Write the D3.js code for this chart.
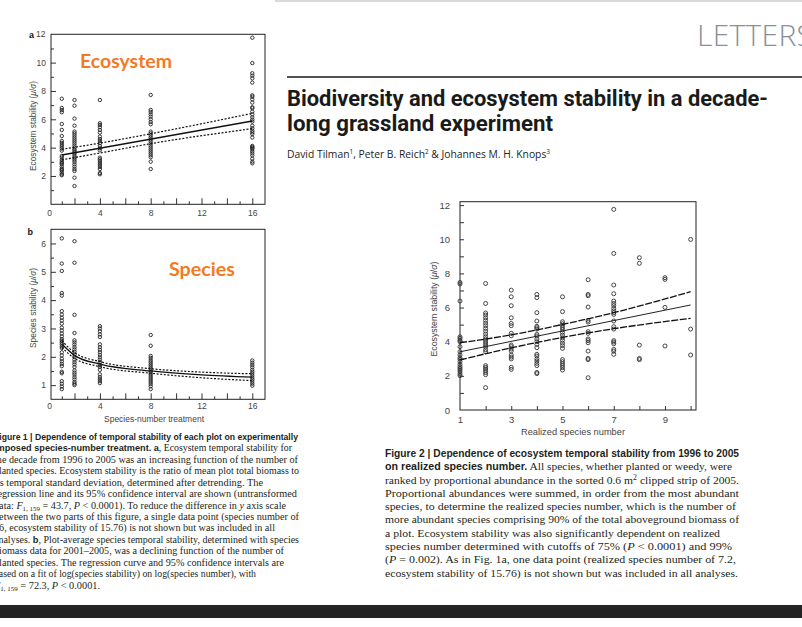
<!DOCTYPE html>
<html><head><meta charset="utf-8">
<script src="https://cdn.jsdelivr.net/npm/d3@7"></script>
<style>body{margin:0;background:#fff}svg{display:block}</style>
</head><body>
<svg id="c" width="802" height="627"></svg>
<script>
// ---------------- DATA ----------------
const treatments = [1, 2, 4, 8, 16];
// Fig 1a: ecosystem stability per planted species number
const ecoStab1 = [7.45,6.8,6.65,6.5,5.67,5.25,4.82,4.47,4.33,4.19,4.07,3.93,3.79,3.41,3.29,3.13,2.99,2.9,2.82,2.66,2.52,2.45,2.38,2.24,2.12,2.05];
const ecoStab2 = [7.36,6.96,6.05,5.55,5.13,5.01,4.87,4.73,4.59,4.45,4.31,4.16,4.02,3.88,3.79,3.67,3.55,3.41,3.27,3.13,2.99,2.82,2.66,2.49,2.35,1.88,1.29];
const ecoStab4 = [7.36,5.72,5.6,5.44,5.25,5.06,4.78,4.61,4.47,4.31,4.12,3.95,3.81,3.29,3.18,3.06,2.92,2.78,2.64,2.49,2.21,2.12];
const ecoStab8 = [7.72,6.66,6.52,6.35,6.19,6.0,5.81,5.65,5.13,5.01,4.87,4.73,4.59,4.45,4.31,4.16,4.02,3.88,3.74,3.6,3.46,3.32,3.01,2.49];
const ecoStab16 = [11.76,9.97,9.25,9.08,8.89,8.59,7.69,7.6,7.41,7.18,6.85,6.78,6.54,6.35,6.14,5.98,5.84,5.55,5.36,5.2,5.08,4.95,4.71,4.12,4.05,3.97,3.9,3.75,3.6,3.45,3.22,3.01,2.89];
const fitA_x = [1, 16], fitA_y = [3.48, 5.88];
const ciA_x = [1, 4, 8, 16], ciA_upper = [3.88, 4.32, 4.98, 6.42], ciA_lower = [3.14, 3.62, 4.28, 5.34];

// Fig 1b: species stability per planted species number
const spStab1 = [6.18,5.29,5.03,4.25,4.16,3.61,3.49,3.38,3.28,3.17,3.03,2.93,2.82,2.72,2.62,2.56,2.5,2.44,2.37,2.31,2.16,2.05,1.93,1.84,1.75,1.67,1.47,1.42,1.14,1.05,0.95,0.86];
const spStab2 = [6.08,5.32,3.48,2.84,2.58,2.51,2.43,2.34,2.26,2.18,2.08,1.99,1.9,1.81,1.73,1.64,1.52,1.44,1.37,1.28,1.2,1.11,1.05,1.0];
const spStab4 = [3.08,3.0,2.9,2.79,2.7,2.44,2.34,2.25,2.16,2.07,1.98,1.9,1.81,1.72,1.64,1.54,1.38,1.28,1.21,1.14,1.07];
const spStab8 = [2.77,2.39,2.03,1.96,1.88,1.81,1.74,1.67,1.6,1.53,1.46,1.39,1.32,1.25,1.18,1.11,1.04,0.96,0.86];
const spStab16 = [1.87,1.79,1.71,1.63,1.54,1.47,1.4,1.33,1.26,1.19,1.12,1.05,0.98];
const fitB_x = [1, 2, 4, 8, 12, 16];
const fitB_y = [2.45, 2.05, 1.74, 1.5, 1.36, 1.28];
const ciB_upper = [2.57, 2.15, 1.83, 1.58, 1.46, 1.4];
const ciB_lower = [2.33, 1.95, 1.65, 1.42, 1.26, 1.16];

// Fig 2: ecosystem stability per realized species number
const realized = [1,2,3,4,5,6,7,8,9,10];
const real1 = [7.47,7.38,6.38,4.29,4.2,4.08,4.0,3.71,3.41,3.22,3.06,2.97,2.83,2.67,2.54,2.44,2.34,2.24,2.11,2.01];
const real2 = [7.41,6.24,5.68,5.56,5.4,5.25,5.09,4.94,4.78,4.62,4.45,4.29,4.16,4.04,3.92,3.8,3.69,3.53,3.41,2.6,2.5,2.4,2.3,2.19,2.07,1.31];
const real3 = [7.02,6.63,6.11,5.4,5.07,4.94,4.49,4.35,3.8,3.71,3.57,3.45,3.22,3.1,2.99,2.5,2.38];
const real4 = [6.77,6.58,5.7,5.21,4.9,4.82,4.74,4.43,4.33,4.16,4.0,3.84,3.65,3.26,3.16,3.0,2.87,2.73,2.6,2.2,2.13];
const real5 = [6.63,5.76,5.17,5.05,4.94,4.82,4.7,4.55,4.39,4.23,4.08,3.92,3.77,3.61,2.95,2.83,2.71,2.6,2.48,2.34];
const real6 = [7.63,6.77,6.69,6.03,5.25,5.15,4.59,4.49,4.16,4.06,3.94,3.45,3.02,2.95,1.89];
const real7 = [11.75,9.17,7.32,6.81,6.38,6.24,6.11,5.95,5.81,5.7,5.6,5.21,4.88,4.74,4.06,3.98,3.88,3.55,3.45,3.26];
const real8 = [8.92,8.59,3.8,3.02,2.95];
const real9 = [7.75,7.65,6.01,3.75];
const real10 = [9.99,4.74,3.22];
const fit2_x = [1, 10], fit2_y = [3.41, 6.15];
const ci2_x = [1, 3, 5, 7, 10];
const ci2_upper = [3.94, 4.40, 5.01, 5.70, 6.93];
const ci2_lower = [2.93, 3.64, 4.25, 4.76, 5.37];

// tick labels
const fig1XTickLabels = [0, 4, 8, 12, 16];
const fig2XTickLabels = [1, 3, 5, 7, 9];

// ---------------- DRAW ----------------
const svg = d3.select("#c");
svg.append("rect").attr("width",802).attr("height",627).attr("fill","#fff");
svg.append("rect").attr("x",275).attr("y",0).attr("width",527).attr("height",2).attr("fill","#dadada");
svg.append("rect").attr("x",0).attr("y",605).attr("width",802).attr("height",13).attr("fill","#232323");

const SANS = "Liberation Sans, Arial, sans-serif";
const SERIF = "Liberation Serif, Times New Roman, serif";

function axisB(g, scale, values, fmt, len, y, fs, pad){
  const a = g.append("g").attr("transform",`translate(0,${y})`)
    .call(d3.axisBottom(scale).tickValues(values).tickSize(-4).tickPadding(pad).tickFormat(fmt));
  a.select(".domain").remove();
  a.selectAll(".tick line").attr("y2", d => -len(d)).attr("stroke","#333");
  a.selectAll(".tick text").attr("font-size",fs).attr("font-family",SANS).attr("fill","#444");
}
function axisL(g, scale, values, fmt, len, x, fs, pad){
  const a = g.append("g").attr("transform",`translate(${x},0)`)
    .call(d3.axisLeft(scale).tickValues(values).tickSize(-4).tickPadding(pad).tickFormat(fmt));
  a.select(".domain").remove();
  a.selectAll(".tick line").attr("x2", d => len(d)).attr("stroke","#333");
  a.selectAll(".tick text").attr("font-size",fs).attr("font-family",SANS).attr("fill","#444");
}
function frame(x0,y0,x1,y1){
  svg.append("rect").attr("x",x0).attr("y",y0).attr("width",x1-x0).attr("height",y1-y0)
    .attr("fill","none").attr("stroke","#222").attr("stroke-width",1);
}
function points(xs, ys, xvals, cols, r, sw, col){
  const pts = xvals.flatMap((t,i) => cols[i].map(v => ({x:t, y:v})));
  svg.append("g").selectAll("circle").data(pts).join("circle")
    .attr("cx", d => xs(d.x)).attr("cy", d => ys(d.y)).attr("r", r)
    .attr("fill","none").attr("stroke",col).attr("stroke-width",sw);
}
function curve(xs, ys, xv, yv, dash, sw, col){
  const line = d3.line().x(d => xs(d[0])).y(d => ys(d[1])).curve(d3.curveMonotoneX);
  svg.append("path").attr("d", line(xv.map((x,i)=>[x, yv[i]])))
    .attr("fill","none").attr("stroke",col).attr("stroke-width",sw)
    .attr("stroke-dasharray", dash);
}
function yLabel(x, cy, main, len, fs){
  const t = svg.append("text").attr("transform",`translate(${x},${cy}) rotate(-90)`)
    .attr("text-anchor","middle").attr("font-family",SANS).attr("font-size",fs).attr("fill","#444")
    .attr("textLength",len).attr("lengthAdjust","spacingAndGlyphs");
  t.append("tspan").text(main + " (");
  t.append("tspan").attr("font-style","italic").text("μ");
  t.append("tspan").text("/");
  t.append("tspan").attr("font-style","italic").text("σ");
  t.append("tspan").text(")");
}

// ---- Panel a ----
const xA = d3.scaleLinear().domain([0.15, 17]).range([51, 265]);
const yA = d3.scaleLinear().domain([0, 12]).range([204.3, 34.3]);
const gA = svg.append("g");
axisB(gA, xA, d3.range(0,17), d => fig1XTickLabels.includes(d) ? d : "", d => d===0 ? 0 : (d%2===0 ? 6 : 3), 204.3, 8.5, 5.3);
axisL(gA, yA, d3.range(1,12), d => d%2===0 ? d : "", d => d%2===0 ? 5 : 3, 51, 8.5, 5);
frame(51, 34.3, 265, 204.3);
svg.append("text").attr("x",45.5).attr("y",37.3).attr("text-anchor","end").attr("font-family",SANS).attr("font-size",8.5).attr("fill","#444").text("12");
points(xA, yA, treatments, [ecoStab1,ecoStab2,ecoStab4,ecoStab8,ecoStab16], 1.7, 0.9, "#222");
curve(xA, yA, fitA_x, fitA_y, null, 1.3, "#111");
curve(xA, yA, ciA_x, ciA_upper, "2,1.6", 1.2, "#111");
curve(xA, yA, ciA_x, ciA_lower, "2,1.6", 1.2, "#111");
yLabel(35.5, 126, "Ecosystem stability", 90, 8.5);
svg.append("text").attr("x",29).attr("y",37.5).attr("font-family",SANS).attr("font-weight","bold").attr("font-size",9).attr("fill","#111").text("a");
svg.append("text").attr("x",80).attr("y",68.3).attr("font-family","Lato, sans-serif").attr("font-weight","bold")
  .attr("font-size",18.5).attr("fill","#f47a22").attr("textLength",92).attr("lengthAdjust","spacingAndGlyphs").text("Ecosystem");

// ---- Panel b ----
const xB = d3.scaleLinear().domain([0.15, 17]).range([51, 265]);
const yB = d3.scaleLinear().domain([0.5, 6.5]).range([399.3, 229.3]);
const gB = svg.append("g");
axisB(gB, xB, d3.range(0,17), d => fig1XTickLabels.includes(d) ? d : "", d => d===0 ? 0 : (d%2===0 ? 6 : 3), 399.3, 8.5, 3.5);
axisL(gB, yB, d3.range(1,6.01,0.5), d => Number.isInteger(d) ? d : "", d => Number.isInteger(d) ? 5 : 3, 51, 8.5, 5);
frame(51, 229.3, 265, 399.3);
points(xB, yB, treatments, [spStab1,spStab2,spStab4,spStab8,spStab16], 1.7, 0.9, "#222");
curve(xB, yB, fitB_x, fitB_y, null, 1.3, "#111");
curve(xB, yB, fitB_x, ciB_upper, "2,1.6", 1.2, "#111");
curve(xB, yB, fitB_x, ciB_lower, "2,1.6", 1.2, "#111");
yLabel(35.5, 308, "Species stability", 80, 8.5);
svg.append("text").attr("x",154).attr("y",422).attr("text-anchor","middle").attr("font-family",SANS).attr("font-size",8.5)
  .attr("fill","#444").attr("textLength",100).attr("lengthAdjust","spacingAndGlyphs").text("Species-number treatment");
svg.append("text").attr("x",27.5).attr("y",235).attr("font-family",SANS).attr("font-weight","bold").attr("font-size",9).attr("fill","#111").text("b");
svg.append("text").attr("x",169).attr("y",275.5).attr("font-family","Lato, sans-serif").attr("font-weight","bold")
  .attr("font-size",18.5).attr("fill","#f47a22").attr("textLength",66).attr("lengthAdjust","spacingAndGlyphs").text("Species");

// ---- Figure 2 ----
const x2 = d3.scaleLinear().domain([1, 10.21]).range([460, 696]);
const y2 = d3.scaleLinear().domain([0, 12.2]).range([410, 201.7]);
const g2 = svg.append("g");
axisB(g2, x2, realized, d => fig2XTickLabels.includes(d) ? d : "", d => d===1 ? 0 : 4, 410, 9.5, 6);
axisL(g2, y2, d3.range(0,13), d => d%2===0 ? d : "", d => d===0 ? 0 : 4, 460, 9.5, 10);
frame(460, 201.7, 696, 410);
points(x2, y2, realized, [real1,real2,real3,real4,real5,real6,real7,real8,real9,real10], 2.0, 0.9, "#333");
curve(x2, y2, fit2_x, fit2_y, null, 1.0, "#222");
curve(x2, y2, ci2_x, ci2_upper, "7,1.6", 1.3, "#111");
curve(x2, y2, ci2_x, ci2_lower, "7,1.6", 1.3, "#111");
yLabel(437, 309, "Ecosystem stability", 95, 9);
svg.append("text").attr("x",573).attr("y",435).attr("text-anchor","middle").attr("font-family",SANS).attr("font-size",9.3)
  .attr("fill","#444").attr("textLength",104).attr("lengthAdjust","spacingAndGlyphs").text("Realized species number");

// ---- Header ----
svg.append("text").attr("x",697).attr("y",45.5).attr("font-family","Open Sans, Lato, sans-serif").attr("font-weight",300)
  .attr("font-size",30).attr("letter-spacing",0.3).attr("fill","#8a9099").text("LETTERS");
svg.append("line").attr("x1",287).attr("x2",802).attr("y1",77).attr("y2",77).attr("stroke","#1a1a1a").attr("stroke-width",1.3);
svg.append("text").attr("x",287).attr("y",106).attr("font-family","Roboto, sans-serif").attr("font-weight","bold").attr("font-size",22.5)
  .attr("fill","#1a1a1a").attr("textLength",481).attr("lengthAdjust","spacingAndGlyphs").text("Biodiversity and ecosystem stability in a decade-");
svg.append("text").attr("x",287).attr("y",131).attr("font-family","Roboto, sans-serif").attr("font-weight","bold").attr("font-size",22.5)
  .attr("fill","#1a1a1a").attr("textLength",266).attr("lengthAdjust","spacingAndGlyphs").text("long grassland experiment");
(function(){
  const t = svg.append("text").attr("x",287).attr("y",158.3).attr("font-family","Open Sans, sans-serif").attr("font-size",10.5)
    .attr("fill","#222").attr("textLength",263).attr("lengthAdjust","spacingAndGlyphs");
  const parts = [["David Tilman",0],["1",1],[", Peter B. Reich",0],["2",1],[" & Johannes M. H. Knops",0],["3",1]];
  let sh = 0;
  parts.forEach(([s,sup]) => {
    const sp = t.append("tspan").text(s);
    const target = sup ? -4 : 0;
    if (sup) sp.attr("font-size",6.5);
    if (target !== sh) { sp.attr("dy", target - sh); sh = target; }
  });
})();

// ---- Captions ----
function caption(lines, ends, x, y0, dy, fs, bfs){
  lines.forEach((segs,i) => {
    const t = svg.append("text").attr("x",x).attr("y",y0 + i*dy).attr("font-family",SERIF).attr("font-size",fs)
      .attr("fill","#231f20").attr("textLength", ends[i]-x).attr("lengthAdjust","spacingAndGlyphs");
    let sh = 0;
    segs.forEach(([s,st]) => {
      const sp = t.append("tspan").text(s);
      let target = 0;
      if (st === "b") sp.attr("font-family",SANS).attr("font-weight","bold").attr("font-size",bfs);
      if (st === "i") sp.attr("font-style","italic");
      if (st === "sub") { sp.attr("font-size",fs*0.68); target = 2.5; }
      if (st === "sup") { sp.attr("font-size",fs*0.68); target = -4; }
      if (target !== sh) { sp.attr("dy", target - sh); sh = target; }
    });
  });
}
const cap1 = [
  [["Figure 1 | Dependence of temporal stability of each plot on experimentally","b"]],
  [["imposed species-number treatment.","b"],[" ","r"],["a","b"],[", Ecosystem temporal stability for","r"]],
  [["the decade from 1996 to 2005 was an increasing function of the number of","r"]],
  [["planted species. Ecosystem stability is the ratio of mean plot total biomass to","r"]],
  [["its temporal standard deviation, determined after detrending. The","r"]],
  [["regression line and its 95% confidence interval are shown (untransformed","r"]],
  [["data: ","r"],["F","i"],["1, 159","sub"],[" = 43.7, ","r"],["P","i"],[" < 0.0001). To reduce the difference in ","r"],["y","i"],[" axis scale","r"]],
  [["between the two parts of this figure, a single data point (species number of","r"]],
  [["16, ecosystem stability of 15.76) is not shown but was included in all","r"]],
  [["analyses. ","r"],["b","b"],[", Plot-average species temporal stability, determined with species","r"]],
  [["biomass data for 2001–2005, was a declining function of the number of","r"]],
  [["planted species. The regression curve and 95% confidence intervals are","r"]],
  [["based on a fit of log(species stability) on log(species number), with","r"]],
  [["F","i"],["1, 159","sub"],[" = 72.3, ","r"],["P","i"],[" < 0.0001.","r"]]
];
caption(cap1, [298,292,298,299,263,297,286,299,275,299,284,284,256,100], -6, 440, 11.43, 10, 9.3);

const cap2 = [
  [["Figure 2 | Dependence of ecosystem temporal stability from 1996 to 2005","b"]],
  [["on realized species number.","b"],[" All species, whether planted or weedy, were","r"]],
  [["ranked by proportional abundance in the sorted 0.6 m","r"],["2","sup"],[" clipped strip of 2005.","r"]],
  [["Proportional abundances were summed, in order from the most abundant","r"]],
  [["species, to determine the realized species number, which is the number of","r"]],
  [["more abundant species comprising 90% of the total aboveground biomass of","r"]],
  [["a plot. Ecosystem stability was also significantly dependent on realized","r"]],
  [["species number determined with cutoffs of 75% (","r"],["P","i"],[" < 0.0001) and 99%","r"]],
  [["(","r"],["P","i"],[" = 0.002). As in Fig. 1a, one data point (realized species number of 7.2,","r"]],
  [["ecosystem stability of 15.76) is not shown but was included in all analyses.","r"]]
];
caption(cap2, [739,732,739,739,736,739,720,732,736,738], 385, 457, 13.28, 11.3, 10.5);
</script>
</body></html>
